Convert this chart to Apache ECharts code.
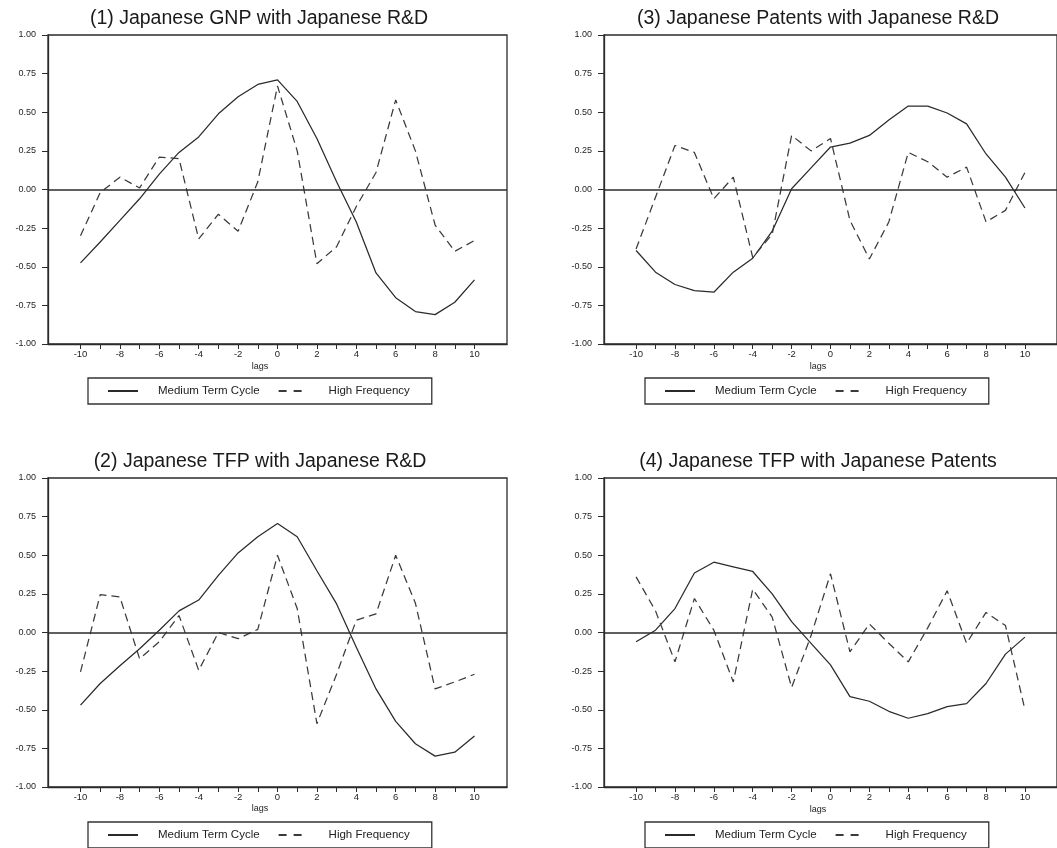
<!DOCTYPE html>
<html>
<head>
<meta charset="utf-8">
<script src="https://cdn.jsdelivr.net/npm/echarts@6/dist/echarts.min.js"></script>
<style>
html,body{margin:0;padding:0;background:#fff;}
#chart{width:1057px;height:848px;}
</style>
</head>
<body>
<div id="chart"></div>
<script>
// ---- data ----
const lags = [-10,-9,-8,-7,-6,-5,-4,-3,-2,-1,0,1,2,3,4,5,6,7,8,9,10];
const xLabelValues = [-10,-8,-6,-4,-2,0,2,4,6,8,10];
const xTickValues = [-10,-9,-8,-7,-6,-5,-4,-3,-2,-1,0,1,2,3,4,5,6,7,8,9,10];
const titles = [
  "(1) Japanese GNP with Japanese R&D",
  "(2) Japanese TFP with Japanese R&D",
  "(3) Japanese Patents with Japanese R&D",
  "(4) Japanese TFP with Japanese Patents"
];
const seriesNames = ["Medium Term Cycle", "High Frequency"];

const p1Medium = [-0.475,-0.34,-0.20,-0.06,0.10,0.24,0.34,0.49,0.60,0.68,0.71,0.57,0.33,0.05,-0.21,-0.54,-0.70,-0.79,-0.81,-0.73,-0.585];
const p1High   = [-0.30,-0.02,0.08,0.01,0.21,0.20,-0.32,-0.16,-0.27,0.05,0.67,0.25,-0.48,-0.37,-0.11,0.11,0.58,0.25,-0.23,-0.40,-0.33];

const p2Medium = [-0.47,-0.33,-0.215,-0.105,0.015,0.14,0.21,0.37,0.515,0.62,0.705,0.62,0.40,0.185,-0.095,-0.365,-0.575,-0.72,-0.80,-0.775,-0.67];
const p2High   = [-0.255,0.245,0.23,-0.17,-0.06,0.11,-0.245,0.00,-0.04,0.02,0.50,0.155,-0.59,-0.27,0.08,0.12,0.50,0.19,-0.365,-0.32,-0.27];

const p3Medium = [-0.395,-0.535,-0.615,-0.655,-0.665,-0.535,-0.445,-0.27,0.005,0.14,0.275,0.30,0.35,0.45,0.54,0.54,0.495,0.425,0.23,0.08,-0.12];
const p3High   = [-0.385,-0.05,0.285,0.24,-0.06,0.08,-0.44,-0.29,0.35,0.25,0.33,-0.20,-0.45,-0.21,0.24,0.18,0.08,0.145,-0.21,-0.135,0.11];

const p4Medium = [-0.06,0.015,0.155,0.385,0.455,0.425,0.395,0.25,0.07,-0.07,-0.21,-0.415,-0.445,-0.51,-0.555,-0.525,-0.48,-0.46,-0.33,-0.14,-0.03];
const p4High   = [0.36,0.14,-0.19,0.22,0.015,-0.32,0.28,0.10,-0.355,-0.02,0.38,-0.125,0.055,-0.07,-0.19,0.03,0.27,-0.07,0.13,0.045,-0.50];

// panel order: (1) top-left, (2) bottom-left, (3) top-right, (4) bottom-right
const panelData = [[p1Medium,p1High],[p2Medium,p2High],[p3Medium,p3High],[p4Medium,p4High]];

// ---- layout ----
const FONT = "'Liberation Sans', Arial, Helvetica, sans-serif";
const INK = '#2b2b2b';
const panels = [
  {left:48,  top:35,  width:459, titleX:259, titleY:9,   lagsX:260, lagsY:362, legX:88,  legY:378},
  {left:48,  top:478, width:459, titleX:260, titleY:452, lagsX:260, lagsY:804, legX:88,  legY:822},
  {left:604, top:35,  width:462, titleX:818, titleY:9,   lagsX:818, lagsY:362, legX:645, legY:378},
  {left:604, top:478, width:462, titleX:818, titleY:452, lagsX:818, lagsY:805, legX:645, legY:822}
];

const option = {
  animation:false,
  backgroundColor:'#fff',
  textStyle:{fontFamily:FONT},
  title:[], legend:[], grid:[], xAxis:[], yAxis:[], series:[]
};

panels.forEach((p,i)=>{
  option.title.push({
    text:titles[i], left:p.titleX, top:p.titleY, textAlign:'center', padding:0,
    textStyle:{fontFamily:FONT, fontSize:19.5, fontWeight:'normal', color:'#1a1a1a'}
  });
  option.title.push({
    text:'lags', left:p.lagsX, top:p.lagsY, textAlign:'center', padding:0,
    textStyle:{fontFamily:FONT, fontSize:9, fontWeight:'normal', color:'#222'}
  });
  option.grid.push({
    left:p.left, top:p.top, width:p.width, height:309,
    show:true, borderColor:INK, borderWidth:1.3, backgroundColor:'#fff'
  });
  option.xAxis.push({
    type:'value', gridIndex:i, min:-11.65, max:11.65,
    splitLine:{show:false},
    axisLine:{show:true, onZero:false, lineStyle:{color:INK, width:1.3}},
    axisTick:{show:true, customValues:xTickValues, length:5, inside:false, lineStyle:{color:INK, width:1}},
    axisLabel:{show:true, customValues:xLabelValues, margin:5, fontSize:9.5, color:'#1e1e1e', fontFamily:FONT,
      showMinLabel:true, showMaxLabel:true}
  });
  option.yAxis.push({
    type:'value', gridIndex:i, min:-1, max:1, interval:0.25,
    splitLine:{show:false},
    axisLine:{show:true, onZero:false, lineStyle:{color:INK, width:1.3}},
    axisTick:{show:true, length:6, lineStyle:{color:INK, width:1}},
    axisLabel:{margin:12, fontSize:9, color:'#1e1e1e', fontFamily:FONT, formatter:(v)=>v.toFixed(2)}
  });
  const [med, high] = panelData[i];
  option.series.push({
    name:seriesNames[0], type:'line', xAxisIndex:i, yAxisIndex:i,
    data:lags.map((l,k)=>[l, med[k]]),
    symbol:'none', lineStyle:{color:'#2a2a2a', width:1.25, type:'solid'}, itemStyle:{color:'#2a2a2a'},
    markLine:{silent:true, symbol:'none', label:{show:false},
      lineStyle:{color:INK, width:1.5, type:'solid'}, data:[{yAxis:0}]},
    z:3
  });
  option.series.push({
    name:seriesNames[1], type:'line', xAxisIndex:i, yAxisIndex:i,
    data:lags.map((l,k)=>[l, high[k]]),
    symbol:'none', lineStyle:{color:'#3a3a3a', width:1.25, type:[8,5]}, itemStyle:{color:'#3a3a3a'},
    z:3
  });
  option.legend.push({
    left:p.legX, top:p.legY,
    orient:'horizontal',
    selectedMode:false,
    borderColor:'#333', borderWidth:1.3, borderRadius:0,
    padding:[7,22,7,19],
    itemWidth:30, itemHeight:14, itemGap:18,
    itemStyle:{opacity:0},
    textStyle:{fontFamily:FONT, fontSize:11.5, color:'#222', padding:[0,0,0,15]},
    data:[
      {name:seriesNames[0]},
      {name:seriesNames[1], lineStyle:{type:[8,7]}}
    ]
  });
});

const chart = echarts.init(document.getElementById('chart'));
chart.setOption(option);
</script>
</body>
</html>
